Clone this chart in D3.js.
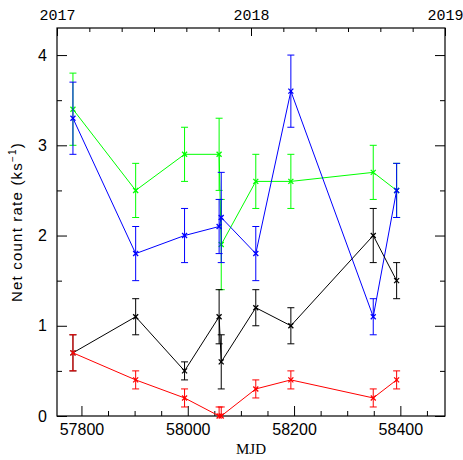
<!DOCTYPE html>
<html><head><meta charset="utf-8">
<script src="https://cdn.jsdelivr.net/npm/d3@7"></script>
<style>
body{margin:0;background:#fff;}
svg{display:block;}
</style></head>
<body>
<svg id="chart" width="463" height="460"></svg>
<script>
const mjd = [57784, 57902, 57994, 58059, 58063, 58128, 58194, 58349, 58393];
const green = [3.4, 2.5, 2.9, 2.9, 1.9, 2.6, 2.6, 2.7, 2.5];
const greenErr = [0.4, 0.3, 0.3, 0.4, 0.5, 0.3, 0.3, 0.3, 0.3];
const blue = [3.3, 1.8, 2.0, 2.1, 2.2, 1.8, 3.6, 1.1, 2.5];
const blueErr = [0.4, 0.3, 0.3, 0.3, 0.5, 0.3, 0.4, 0.2, 0.3];
const black = [0.7, 1.1, 0.5, 1.1, 0.6, 1.2, 1.0, 2.0, 1.5];
const blackErr = [0.2, 0.2, 0.1, 0.3, 0.3, 0.2, 0.2, 0.3, 0.2];
const red = [0.7, 0.4, 0.2, 0.0, 0.0, 0.3, 0.4, 0.2, 0.4];
const redErr = [0.2, 0.1, 0.1, 0.1, 0.1, 0.1, 0.1, 0.1, 0.1];
const xMajor = [57800, 58000, 58200, 58400];
const yMajor = [0, 1, 2, 3, 4];
const years = [2017, 2018, 2019];

const series = [
  {name:"green", color:"#00ff00", v:green, e:greenErr},
  {name:"blue", color:"#0000ff", v:blue, e:blueErr},
  {name:"black", color:"#000000", v:black, e:blackErr},
  {name:"red", color:"#ff0000", v:red, e:redErr}
];

const L = 57, R = 445, T = 28, B = 416;
const svg = d3.select("#chart");
const x = d3.scaleLinear().domain([57754, 58484]).range([L, R]);
const xYear = d3.scaleLinear().domain([2017, 2019]).range([L, R]);
const y = d3.scaleLinear().domain([0, 4.3]).range([B, T]);

const xMinor = d3.range(57750, 58500, 50).filter(v => v > 57754 && v < 58484 && !xMajor.includes(v));
const yMinor = d3.range(0.5, 4.3, 1);
const yearMinor = d3.range(1, 12).map(i => 2017 + i / 6).filter(v => Math.abs(v - 2018) > 1e-6);

function styleAxis(g, font, size) {
  g.select(".domain").remove();
  g.selectAll("line").attr("stroke", "#000").attr("stroke-width", 1);
  g.selectAll("text").attr("font-family", font).attr("font-size", size).attr("fill", "#000");
}

// bottom
svg.append("g").attr("transform", `translate(0,${B})`)
  .call(d3.axisBottom(x).tickValues(xMajor).tickSizeInner(-10).tickSizeOuter(0).tickPadding(8).tickFormat(d3.format("d")))
  .call(g => styleAxis(g, "Liberation Sans, Arial, sans-serif", 16));
svg.append("g").attr("transform", `translate(0,${B})`)
  .call(d3.axisBottom(x).tickValues(xMinor).tickSizeInner(-5).tickSizeOuter(0).tickFormat(""))
  .call(g => styleAxis(g, "sans-serif", 10));

// top (years)
svg.append("g").attr("transform", `translate(0,${T})`)
  .call(d3.axisTop(xYear).tickValues(years).tickSizeInner(-8).tickSizeOuter(0).tickPadding(8).tickFormat(d3.format("d")))
  .call(g => styleAxis(g, "Liberation Mono, Courier New, monospace", 15));
svg.append("g").attr("transform", `translate(0,${T})`)
  .call(d3.axisTop(xYear).tickValues(yearMinor).tickSizeInner(-4).tickSizeOuter(0).tickFormat(""))
  .call(g => styleAxis(g, "sans-serif", 10));

// left
svg.append("g").attr("transform", `translate(${L},0)`)
  .call(d3.axisLeft(y).tickValues(yMajor).tickSizeInner(-10).tickSizeOuter(0).tickPadding(10).tickFormat(d3.format("d")))
  .call(g => styleAxis(g, "Liberation Sans, Arial, sans-serif", 16));
svg.append("g").attr("transform", `translate(${L},0)`)
  .call(d3.axisLeft(y).tickValues(yMinor).tickSizeInner(-5).tickSizeOuter(0).tickFormat(""))
  .call(g => styleAxis(g, "sans-serif", 10));

// right
svg.append("g").attr("transform", `translate(${R},0)`)
  .call(d3.axisRight(y).tickValues(yMajor).tickSizeInner(-10).tickSizeOuter(0).tickFormat(""))
  .call(g => styleAxis(g, "sans-serif", 10));
svg.append("g").attr("transform", `translate(${R},0)`)
  .call(d3.axisRight(y).tickValues(yMinor).tickSizeInner(-5).tickSizeOuter(0).tickFormat(""))
  .call(g => styleAxis(g, "sans-serif", 10));

// frame
svg.append("rect").attr("x", L).attr("y", T).attr("width", R - L).attr("height", B - T)
  .attr("fill", "none").attr("stroke", "#000").attr("stroke-width", 1.2);

// data
const line = d3.line().x(d => x(d.m)).y(d => y(d.v));
const cap = 3.5, mk = 2.5;
series.forEach(s => {
  const pts = mjd.map((m, i) => ({m, v: s.v[i], e: s.e[i]}));
  const g = svg.append("g").attr("stroke", s.color).attr("fill", "none").attr("stroke-width", 1);
  g.append("path").attr("d", line(pts));
  pts.forEach(p => {
    const cx = x(p.m), top = y(p.v + p.e), bot = y(Math.max(p.v - p.e, 0)), cy = y(p.v);
    g.append("line").attr("x1", cx).attr("x2", cx).attr("y1", top).attr("y2", bot);
    g.append("line").attr("x1", cx - cap).attr("x2", cx + cap).attr("y1", top).attr("y2", top);
    if (p.v - p.e >= 0) g.append("line").attr("x1", cx - cap).attr("x2", cx + cap).attr("y1", bot).attr("y2", bot);
    g.append("line").attr("x1", cx - mk).attr("x2", cx + mk).attr("y1", cy - mk).attr("y2", cy + mk).attr("stroke-width", 1.3);
    g.append("line").attr("x1", cx - mk).attr("x2", cx + mk).attr("y1", cy + mk).attr("y2", cy - mk).attr("stroke-width", 1.3);
  });
});

// labels
svg.append("text").attr("x", (L + R) / 2).attr("y", 454).attr("text-anchor", "middle")
  .attr("font-family", "Liberation Serif, Times New Roman, serif").attr("font-size", 15).text("MJD");

const yl = svg.append("text").attr("transform", `translate(22,222) rotate(-90)`).attr("text-anchor", "middle")
  .attr("font-family", "Liberation Sans, Arial, sans-serif").attr("font-size", 15).attr("letter-spacing", 1.2);
yl.append("tspan").text("Net count rate (ks");
yl.append("tspan").attr("font-size", 10).attr("dy", -6).text("\u22121");
yl.append("tspan").attr("dy", 6).text(")");
</script>
</body></html>
